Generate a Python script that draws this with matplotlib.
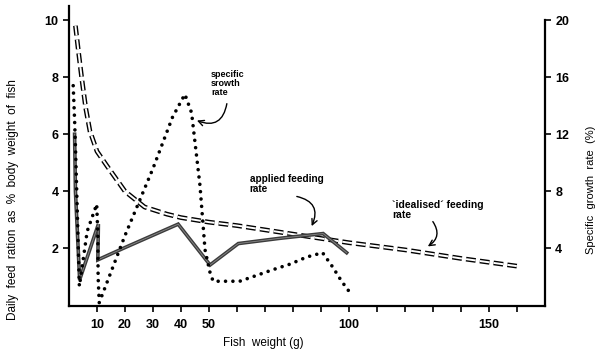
import matplotlib
matplotlib.use("Agg")
import matplotlib.pyplot as plt

plt.rcParams['font.family'] = ['Liberation Sans Narrow', 'Liberation Sans', 'DejaVu Sans']
plt.rcParams['font.weight'] = 'bold'
plt.rcParams['lines.scale_dashes'] = False

# 'idealised' feeding rate (% body weight)
ideal_w = [2.3, 3.5, 4.5, 6.0, 7.5, 10, 13.5, 20, 27, 35, 40, 50, 60, 80, 100, 120, 140, 160]
ideal_r = [9.8, 8.8, 8.0, 6.9, 6.1, 5.4, 4.9, 4.0, 3.45, 3.2, 3.08, 2.92, 2.8, 2.5, 2.2, 1.95, 1.65, 1.38]

# applied feeding rate (% body weight)
applied_w = [2.0, 2.3, 3.8, 10.5, 10.3, 20, 39, 50.4, 60.5, 75, 90.8, 99.2]
applied_r = [6.0, 4.0, 0.9, 2.85, 1.6, 2.03, 2.85, 1.42, 2.17, 2.35, 2.52, 1.85]

# specific growth rate (%)
sgr_w = [1.5, 2.0, 2.4, 3.7, 6.5, 9.9, 10.3, 10.4, 10.8, 20, 30, 37, 41.4, 43.8, 46.8, 48.6, 50.4, 51.5,
         61, 66.9, 72.7, 79, 85, 90.6, 94.2, 97.4, 100.4]
sgr = [15.4, 13.0, 10.5, 1.35, 5.2, 7.1, 5.0, 2.0, 0.2, 4.9, 9.6, 13.2, 14.8, 13.5, 8.4, 3.9, 2.3, 1.7,
       1.7, 2.1, 2.5, 2.9, 3.4, 3.7, 2.7, 1.7, 0.9]

x_ticks = [10, 20, 30, 40, 50, 60, 70, 80, 90, 100, 110, 120, 130, 140, 150, 160]
x_labels = ['10', '20', '30', '40', '50', '', '', '', '', '100', '', '', '', '', '150', '']

fig = plt.figure(figsize=(6, 3.51), dpi=100)
ax = fig.add_axes([0.115, 0.1296, 0.793, 0.854])
ax2 = ax.twinx()

# double dashed "idealised" line: black dashes with a white core
ax.plot(ideal_w, ideal_r, color='black', lw=3.4, dashes=(7, 3))
ax.plot(ideal_w, ideal_r, color='white', lw=1.4, dashes=(7, 3))

ax.plot(applied_w, applied_r, color='#3c3c3c', lw=2.6, solid_joinstyle='miter')
ax.plot(applied_w, applied_r, color='#8a8a8a', lw=0.6)

ax2.plot(sgr_w, sgr, color='black', lw=2.6, dashes=(0.01, 5.3), dash_capstyle='round')

ax.set_xlim(0, 170)
ax.set_ylim(0, 10.5)
ax2.set_ylim(0, 21)

ax.set_xticks(x_ticks)
ax.set_xticklabels(x_labels)
ax.set_yticks([2, 4, 6, 8, 10])
ax2.set_yticks([4, 8, 12, 16, 20])

for a in (ax, ax2):
    a.spines['top'].set_visible(False)
    for s in a.spines.values():
        s.set_linewidth(1.6)
    a.tick_params(width=1.2, length=4, labelsize=9)
ax.spines['right'].set_visible(False)
ax2.spines['left'].set_visible(False)
ax2.spines['bottom'].set_visible(False)
ax2.spines['right'].set_bounds(0, 20)
ax.tick_params(axis='x', pad=6)

ax.set_xlabel('Fish  weight (g)', fontsize=8.5)
ax.xaxis.set_label_coords(0.408, -0.105)
ax.set_ylabel('Daily  feed  ration  as  %  body  weight  of  fish', fontsize=8.5)
ax.yaxis.set_label_coords(-0.105, 0.354)
ax2.set_ylabel('Specific  growth  rate  (%)', fontsize=8)
ax2.yaxis.set_label_coords(1.086, 0.385)

ax.text(50.7, 7.3, 'specific\nsrowth\nrate', fontsize=6.5, linespacing=1.0, ha='left', va='bottom')
ax.annotate('', xy=(45.7, 6.48), xytext=(56.4, 7.07),
            arrowprops=dict(arrowstyle='->', lw=1, color='black',
                            connectionstyle='arc3,rad=-0.6', shrinkA=0, shrinkB=0))
ax.text(64.6, 3.92, 'applied feeding\nrate', fontsize=7.2, linespacing=1.0, ha='left', va='bottom')
ax.annotate('', xy=(86.7, 2.78), xytext=(81.4, 3.82),
            arrowprops=dict(arrowstyle='->', lw=1, color='black',
                            connectionstyle='arc3,rad=-0.6', shrinkA=0, shrinkB=0))
ax.text(115.4, 2.98, "`idealised´ feeding\nrate", fontsize=7.5, linespacing=1.0, ha='left', va='bottom')
ax.annotate('', xy=(128.2, 2.07), xytext=(130, 2.94),
            arrowprops=dict(arrowstyle='->', lw=1, color='black',
                            connectionstyle='arc3,rad=-0.5', shrinkA=0, shrinkB=0))

fig.savefig('out.png', dpi=100)
